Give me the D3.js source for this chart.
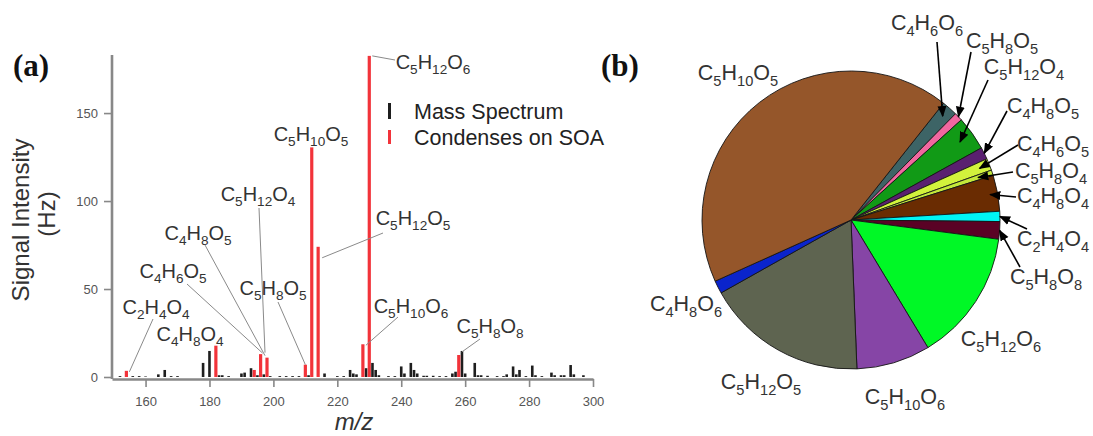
<!DOCTYPE html>
<html>
<head>
<meta charset="utf-8">
<script src="https://cdn.jsdelivr.net/npm/d3@7"></script>
<style>
  html, body { margin: 0; padding: 0; background: #fff; }
  svg { display: block; }
</style>
</head>
<body>
<svg id="fig" width="1093" height="436" font-family="Liberation Sans, Arial, sans-serif"></svg>
<script>
// ---------- Panel (a): mass spectrum ----------
// all ions in the spectrum (m/z, Hz)
const specMz   = [152, 156, 158, 160, 164, 166, 168, 170, 178, 180, 183, 184, 186, 190, 191, 193, 195, 197, 199, 202, 204, 206, 208, 211, 216, 220, 222, 224, 225, 226, 229, 231, 232, 233, 236, 238, 240, 241, 243, 244, 245, 247, 248, 250, 252, 254, 256, 257, 259, 260, 263, 264, 265, 267, 270, 272, 273, 275, 276, 277, 279, 281, 282, 284, 287, 288, 290, 291, 293, 294, 297];
const specHz   = [0.5, 0.5, 0.5, 0.3, 1.5, 4, 0.5, 0.5, 8, 14.8, 1, 1, 0.5, 2, 2.5, 5, 1, 1.5, 0.5, 0.5, 0.5, 0.5, 0.5, 1, 2, 0.5, 0.5, 4, 2, 1.5, 5, 8, 4, 1, 0.5, 0.5, 6, 2, 8, 4, 2, 0.7, 0.7, 0.7, 0.5, 0.5, 2, 3, 14.8, 2, 8, 1, 1, 0.7, 0.5, 0.5, 1.5, 6, 1.5, 4, 0.5, 6.5, 1, 0.5, 2.5, 1, 1, 1, 6.8, 1.5, 1];
// ions that condense on SOA (m/z, Hz)
const soaMz    = [154, 182, 194, 196, 198, 210, 212, 214, 228, 230, 258];
const soaHz    = [3.5, 17.8, 4, 13, 11, 7, 130.5, 74, 18.6, 182.5, 12.5];

const xTicks = [160, 180, 200, 220, 240, 260, 280, 300];
const yTicks = [0, 50, 100, 150];

// formula annotations and the m/z of the peak each one names
const specLabels   = ["C2H4O4", "C4H8O4", "C4H6O5", "C4H8O5", "C5H12O4", "C5H8O5", "C5H10O5", "C5H12O5", "C5H10O6", "C5H12O6", "C5H8O8"];
const specLabelMz  = [154, 182, 196, 198, 198, 210, 212, 214, 228, 230, 258];

// ---------- Panel (b): composition of the condensing products ----------
const pieNames  = ["C4H6O6", "C5H8O5", "C5H12O4", "C4H8O5", "C4H6O5", "C5H8O4", "C4H8O4", "C2H4O4", "C5H8O8", "C5H12O6", "C5H10O6", "C5H12O5", "C4H8O6", "C5H10O5"];
const pieShares = [1.7, 0.9, 3.7, 1.3, 1.3, 0.6, 3.9, 1.1, 1.9, 14.3, 8.0, 17.5, 1.4, 42.4];

// ---------- styling / layout ----------
const pieColors = ["#3d6466", "#f0679f", "#119a16", "#5a2070", "#d2f23c", "#c4e83a", "#6a2c02", "#00f5f5", "#5a0225", "#00f826", "#8645a6", "#5e6450", "#0a24cc", "#95562a"];
const ink = "#333";
const sans = "Liberation Sans, Arial, sans-serif";
const serif = "Liberation Serif, Times New Roman, serif";

// text centre and optional leader start for panel (a) labels; the leader ends at the peak
const specLayout = {
  "C2H4O4":  {c: [156, 308], from: [153, 319], off: [3, 1]},
  "C4H8O4":  {c: [190, 335]},
  "C4H6O5":  {c: [173, 272], from: [187, 284], off: [2, -1]},
  "C4H8O5":  {c: [198, 234], from: [205, 245], off: [-2, -2]},
  "C5H12O4": {c: [258, 195], from: [259, 208], off: [-2, -5]},
  "C5H8O5":  {c: [273, 289], from: [278, 302], off: [0, 0]},
  "C5H10O5": {c: [311, 135]},
  "C5H12O5": {c: [413, 219], from: [383, 233], off: [4, 11]},
  "C5H10O6": {c: [411, 307], from: [398, 317], off: [3, 1]},
  "C5H12O6": {c: [433, 63],  from: [395, 60],  off: [3, 0]},
  "C5H8O8":  {c: [490, 327], from: [480, 339], off: [3, -3]}
};

// text centre, arrow tail, and where in the slice (fraction of radius) the arrow points
const pieLayout = {
  "C5H10O5": {c: [738, 74]},
  "C4H6O6":  {c: [927, 24],  tail: [937, 42],  rf: 0.93},
  "C5H8O5":  {c: [1002, 42], tail: [971, 52],  rf: 1.0},
  "C5H12O4": {c: [1024, 68], tail: [988, 80],  rf: 0.9},
  "C4H8O5":  {c: [1043, 107], tail: [1007, 111], rf: 1.0},
  "C4H6O5":  {c: [1053, 145], tail: [1018, 145], rf: 0.93},
  "C5H8O4":  {c: [1051, 172], tail: [1013, 172], rf: 0.9},
  "C4H8O4":  {c: [1053, 197], tail: [1016, 197], rf: 0.95},
  "C2H4O4":  {c: [1053, 240], tail: [1027, 229], rf: 1.0},
  "C5H8O8":  {c: [1046, 278], tail: [1020, 267], rf: 1.0},
  "C5H12O6": {c: [1001, 340]},
  "C5H10O6": {c: [905, 398]},
  "C5H12O5": {c: [761, 383]},
  "C4H8O6":  {c: [686, 305]}
};

const svg = d3.select("#fig");

// chemical formula with subscripted counts, centred on (cx, cy)
function formula(g, str, cx, cy, size) {
  const parts = str.match(/[A-Z][a-z]?|\d+/g);
  const t = g.append("text")
    .attr("x", cx).attr("y", cy + size * 0.3)
    .attr("text-anchor", "middle")
    .attr("font-size", size)
    .attr("fill", ink);
  const drop = size * 0.26;
  let down = false;
  parts.forEach(p => {
    const isNum = /^\d+$/.test(p);
    const ts = t.append("tspan").text(p);
    if (isNum && !down) { ts.attr("dy", drop).attr("font-size", size * 0.68); down = true; }
    else if (!isNum && down) { ts.attr("dy", -drop); down = false; }
    else if (isNum) { ts.attr("font-size", size * 0.68); }
  });
  return t;
}

// ---------- draw panel (a) ----------
const x = d3.scaleLinear().domain([149.5, 300]).range([112, 593]);
const y = d3.scaleLinear().domain([0, 183]).range([377, 55]);

const gA = svg.append("g");

// peaks
gA.append("g").selectAll("rect").data(specMz).join("rect")
  .attr("x", (d) => x(d) - 1.3)
  .attr("width", 2.6)
  .attr("y", (d, i) => y(specHz[i]))
  .attr("height", (d, i) => y(0) - y(specHz[i]))
  .attr("fill", "#1e1e1e");

gA.append("g").selectAll("rect").data(soaMz).join("rect")
  .attr("x", (d) => x(d) - 1.6)
  .attr("width", 3.2)
  .attr("y", (d, i) => y(soaHz[i]))
  .attr("height", (d, i) => y(0) - y(soaHz[i]))
  .attr("fill", "#f2333a");

// axes
const xAxis = d3.axisBottom(x).tickValues(xTicks).tickSize(8).tickSizeOuter(0).tickPadding(10);
const yAxis = d3.axisLeft(y).tickValues(yTicks).tickSize(8).tickSizeOuter(0).tickPadding(6);

const gx = gA.append("g").attr("transform", "translate(0,379)").call(xAxis);
const gy = gA.append("g").attr("transform", "translate(112,0)").call(yAxis);
[gx, gy].forEach(g => {
  g.attr("font-family", sans);
  g.select(".domain").attr("stroke", "#888").attr("stroke-width", 2.6);
  g.selectAll(".tick line").attr("stroke", "#888").attr("stroke-width", 1.6);
  g.selectAll(".tick text").attr("fill", "#555").attr("font-size", 13);
});
gy.select(".domain").attr("d", "M0,379V55");

// axis titles
gA.append("text").attr("transform", "translate(29,220) rotate(-90)")
  .attr("text-anchor", "middle").attr("font-size", 24).attr("fill", ink)
  .text("Signal Intensity");
gA.append("text").attr("transform", "translate(55,214) rotate(-90)")
  .attr("text-anchor", "middle").attr("font-size", 24).attr("fill", ink)
  .text("(Hz)");
gA.append("text").attr("x", 354).attr("y", 430)
  .attr("text-anchor", "middle").attr("font-size", 24).attr("font-style", "italic")
  .attr("fill", ink).text("m/z");

// panel tags
svg.append("text").attr("x", 13).attr("y", 76)
  .attr("font-family", serif)
  .attr("font-weight", "bold").attr("font-size", 31).attr("fill", "#111").text("(a)");
svg.append("text").attr("x", 601).attr("y", 76)
  .attr("font-family", serif)
  .attr("font-weight", "bold").attr("font-size", 31).attr("fill", "#111").text("(b)");

// legend
const legend = [
  {name: "Mass Spectrum", color: "#1e1e1e", top: 103, bot: 119, ty: 111},
  {name: "Condenses on SOA", color: "#f2333a", top: 130, bot: 144, ty: 137}
];
legend.forEach(l => {
  gA.append("rect").attr("x", 388).attr("y", l.top).attr("width", 3).attr("height", l.bot - l.top).attr("fill", l.color);
  gA.append("text").attr("x", 414).attr("y", l.ty + 7.5).attr("font-size", 21.5).attr("fill", "#222").text(l.name);
});

// peak annotations with grey leaders
specLabels.forEach((name, i) => {
  const L = specLayout[name];
  const mz = specLabelMz[i];
  const hz = soaHz[soaMz.indexOf(mz)];
  if (L.from) {
    gA.append("line")
      .attr("x1", L.from[0]).attr("y1", L.from[1])
      .attr("x2", x(mz) + L.off[0]).attr("y2", y(hz) + L.off[1])
      .attr("stroke", "#8a8a8a").attr("stroke-width", 1);
  }
  formula(gA, name, L.c[0], L.c[1], 20);
});

// ---------- draw panel (b) ----------
const cx = 851, cy = 220, R = 149;
const start = 38.4 * Math.PI / 180;
const pie = d3.pie().sort(null).startAngle(start).endAngle(start + 2 * Math.PI);
const arcs = pie(pieShares);
const arc = d3.arc().innerRadius(0).outerRadius(R);

const gB = svg.append("g").attr("transform", `translate(${cx},${cy})`);
gB.selectAll("path").data(arcs).join("path")
  .attr("d", arc)
  .attr("fill", (d, i) => pieColors[i])
  .attr("stroke", "#151515").attr("stroke-width", 0.9);

svg.append("defs").append("marker")
  .attr("id", "tip").attr("viewBox", "0 0 10 10")
  .attr("refX", 9).attr("refY", 5)
  .attr("markerWidth", 7).attr("markerHeight", 7)
  .attr("orient", "auto-start-reverse")
  .append("path").attr("d", "M0,1L10,5L0,9z").attr("fill", "#000");

pieNames.forEach((name, i) => {
  const L = pieLayout[name];
  if (L.tail) {
    const a = (arcs[i].startAngle + arcs[i].endAngle) / 2;
    const tx = cx + Math.sin(a) * R * L.rf;
    const ty = cy - Math.cos(a) * R * L.rf;
    svg.append("line")
      .attr("x1", L.tail[0]).attr("y1", L.tail[1])
      .attr("x2", tx).attr("y2", ty)
      .attr("stroke", "#000").attr("stroke-width", 1.6)
      .attr("marker-end", "url(#tip)");
  }
  formula(svg, name, L.c[0], L.c[1], 21.5);
});
</script>
</body>
</html>
